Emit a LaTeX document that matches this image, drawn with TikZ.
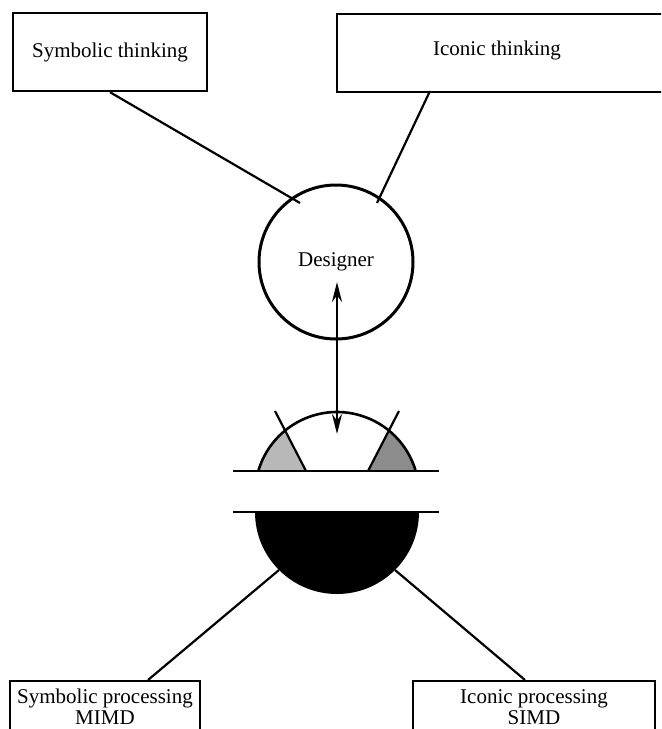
\documentclass[tikz,border=0pt]{standalone}
\usepackage{fontspec}
\setmainfont{Liberation Serif}
\usetikzlibrary{arrows.meta}
\begin{document}
\begin{tikzpicture}[x=0.5pt,y=-0.5pt,
  box/.style={draw, line width=1.2pt, inner sep=0pt},
  lbl/.style={font=\fontsize{10.5}{10.5}\selectfont, align=center},
  link/.style={line width=1.1pt},
  plate/.style={line width=1.3pt},
  dtip/.tip={Stealth[length=10pt,width=5pt]}]
\useasboundingbox (0,0) rectangle (661,729);
\clip (0,0) rectangle (661,729);

% the two ways of thinking
\node[box, lbl, minimum width=97pt, minimum height=39pt] (st) at (110,52) {Symbolic thinking};
\node[box, minimum width=170pt, minimum height=39pt, anchor=north west] (it) at (336,13) {};
\node[lbl, inner sep=0pt] (itl) at (497,50) {Iconic thinking};

% the designer
\node[draw, circle, line width=1.5pt, minimum size=77pt, inner sep=0pt, lbl] (des) at (336,262) {Designer};

\coordinate (itfoot) at (430,91);
\coordinate (stend) at (300,203);
\coordinate (itend) at (377,203);
\draw[link] (st.south) -- (stend);
\draw[link] (itfoot) -- (itend);

% two-way link between designer and machine
\coordinate (atop) at (337,282);
\coordinate (abot) at (337,434);
\draw[link, dtip-dtip] (atop) -- (abot);

% upper half: the dome with its two shaded sectors
\fill[black!28] (258.3,471) arc[start angle=196.3, end angle=230.7, radius=82] -- (306,471) -- cycle;
\fill[black!45] (415.7,471) arc[start angle=343.7, end angle=309.3, radius=82] -- (368,471) -- cycle;
\draw[plate] (258.3,471) arc[start angle=196.3, end angle=343.7, radius=82];
\draw[link] (306,471) -- (275,411);
\draw[link] (368,471) -- (399,411);
\draw[plate] (233,471) -- (439,471);

% lower half: the solid bowl
\draw[plate] (233,512) -- (439,512);
\fill (255,512) arc[start angle=180, end angle=0, radius=82] -- cycle;
\coordinate (dl) at (279,570);
\coordinate (dr) at (395,570);

% the two ways of processing
\node[box, minimum width=95pt, minimum height=40pt, anchor=north] (sp) at (105,680) {};
\node[lbl, inner sep=0pt] (spl) at (105,707) {Symbolic processing\\MIMD};
\node[box, minimum width=121pt, minimum height=40pt, anchor=north] (ip) at (534,680) {};
\node[lbl, inner sep=0pt] (ipl) at (534,707) {Iconic processing\\SIMD};
\coordinate (spfoot) at (148,680);
\coordinate (ipfoot) at (525,680);
\draw[link] (spfoot) -- (dl);
\draw[link] (ipfoot) -- (dr);
\end{tikzpicture}
\end{document}
